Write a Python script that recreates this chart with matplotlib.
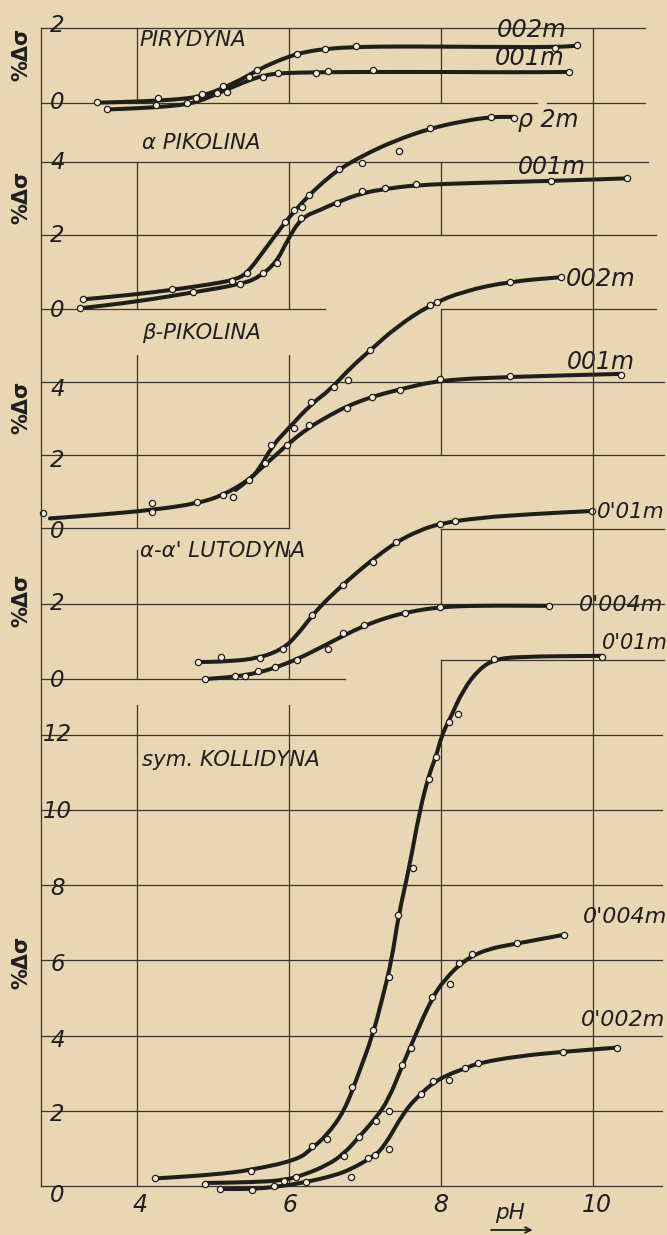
import matplotlib.pyplot as plt
import numpy as np
from matplotlib.path import Path
from matplotlib.patches import PathPatch

W, H = 667, 1235
PAPER = '#e8d7b4'
INK = '#211d19'
GRID = '#3a342d'

# pH -> pixel: pH 4 sits at X4, XS pixels per pH unit
X4, XS = 136.7, 76.1
X_LEFT = 4 - X4 / XS
X_RIGHT = 4 + (W - X4) / XS
AX_L = 2.742      # left vertical rule

# panel zero line (pixel row) and pixels per unit of %dsigma
pan = {
    'pir':  (102.7, 37.5),
    'apik': (309.0, 36.8),
    'bpik': (528.3, 36.5),
    'lut':  (679.0, 37.5),
    'kol':  (1186.0, 37.6),
}

# ---- PIRYDYNA ----
pir2_ph = [3.48, 4.28, 4.78, 4.86, 5.14, 5.47, 5.58, 6.10, 6.47, 6.88, 9.50, 9.79]
pir2_v = [0.01, 0.12, 0.13, 0.22, 0.45, 0.69, 0.87, 1.29, 1.43, 1.51, 1.47, 1.54]
pir2_cph = [3.48, 4.0, 4.5, 4.8, 5.0, 5.2, 5.4, 5.6, 5.8, 6.0, 6.2, 6.5, 6.9, 7.5, 8.5, 9.5, 9.79]
pir2_cv = [0.0, 0.03, 0.08, 0.15, 0.28, 0.45, 0.65, 0.88, 1.07, 1.23, 1.35, 1.44, 1.49, 1.5, 1.49, 1.48, 1.52]
pir1_ph = [3.61, 4.26, 4.66, 5.05, 5.19, 5.66, 5.86, 6.36, 6.52, 7.10, 9.68]
pir1_v = [-0.18, -0.06, -0.02, 0.25, 0.29, 0.69, 0.78, 0.80, 0.85, 0.87, 0.83]
pir1_cph = [3.61, 4.0, 4.4, 4.7, 4.9, 5.1, 5.3, 5.5, 5.7, 5.9, 6.3, 7.0, 8.0, 9.0, 9.68]
pir1_cv = [-0.18, -0.15, -0.1, -0.03, 0.1, 0.28, 0.45, 0.62, 0.74, 0.79, 0.81, 0.82, 0.82, 0.81, 0.82]

# ---- alfa PIKOLINA ----
ap2_ph = [3.29, 4.47, 5.25, 5.45, 5.95, 6.07, 6.17, 6.26, 6.66, 6.96, 7.45, 7.86, 8.66, 8.96]
ap2_v = [0.26, 0.54, 0.77, 0.97, 2.36, 2.69, 2.78, 3.10, 3.80, 3.98, 4.30, 4.91, 5.23, 5.20]
ap2_cph = [3.29, 4.0, 4.5, 5.0, 5.3, 5.45, 5.66, 5.95, 6.1, 6.26, 6.45, 6.66, 7.0, 7.4, 7.86, 8.3, 8.66, 8.96]
ap2_cv = [0.26, 0.4, 0.53, 0.68, 0.8, 0.97, 1.55, 2.36, 2.72, 3.08, 3.45, 3.8, 4.2, 4.58, 4.91, 5.11, 5.22, 5.22]
ap1_ph = [3.26, 4.74, 5.36, 5.66, 5.84, 6.16, 6.63, 6.96, 7.26, 7.67, 9.45, 10.44]
ap1_v = [0.02, 0.45, 0.67, 0.99, 1.26, 2.48, 2.89, 3.21, 3.28, 3.39, 3.47, 3.55]
ap1_cph = [3.26, 4.0, 4.74, 5.36, 5.6, 5.84, 5.97, 6.16, 6.41, 6.63, 6.96, 7.26, 7.67, 8.5, 9.45, 10.44]
ap1_cv = [0.02, 0.2, 0.45, 0.67, 0.85, 1.28, 1.83, 2.48, 2.69, 2.9, 3.15, 3.26, 3.37, 3.43, 3.48, 3.55]

# ---- beta PIKOLINA ----
bp2_ph = [2.77, 4.20, 4.79, 5.14, 5.47, 5.77, 6.29, 6.59, 6.78, 7.06, 7.85, 7.94, 8.90, 9.58]
bp2_v = [0.43, 0.70, 0.73, 0.91, 1.32, 2.28, 3.47, 3.86, 4.06, 4.88, 6.12, 6.21, 6.76, 6.88]
bp2_cph = [2.86, 3.5, 4.2, 4.8, 5.14, 5.47, 5.6, 5.78, 6.0, 6.29, 6.54, 6.80, 7.07, 7.41, 7.85, 8.3, 8.9, 9.58]
bp2_cv = [0.27, 0.37, 0.5, 0.68, 0.91, 1.32, 1.58, 2.26, 2.75, 3.4, 3.79, 4.38, 4.88, 5.51, 6.12, 6.5, 6.76, 6.88]
bp1_ph = [4.20, 5.27, 5.69, 5.97, 6.07, 6.26, 6.77, 7.09, 7.46, 7.98, 8.91, 10.36]
bp1_v = [0.45, 0.87, 1.78, 2.28, 2.74, 2.83, 3.29, 3.61, 3.79, 4.08, 4.17, 4.20]
bp1_cph = [5.3, 5.47, 5.6, 5.8, 5.97, 6.26, 6.54, 6.76, 7.07, 7.46, 7.98, 8.91, 10.36]
bp1_cv = [1.05, 1.32, 1.58, 1.95, 2.28, 2.76, 3.1, 3.34, 3.59, 3.81, 4.06, 4.15, 4.23]

# ---- alfa-alfa' LUTODYNA ----
lu1_ph = [4.81, 5.11, 5.62, 5.92, 6.30, 6.71, 7.11, 7.41, 7.99, 8.18, 9.98]
lu1_v = [0.45, 0.59, 0.57, 0.80, 1.71, 2.51, 3.13, 3.65, 4.13, 4.22, 4.48]
lu1_cph = [4.81, 5.2, 5.6, 5.92, 6.1, 6.3, 6.5, 6.71, 6.9, 7.11, 7.41, 7.7, 7.99, 8.5, 9.2, 9.98]
lu1_cv = [0.45, 0.47, 0.55, 0.8, 1.15, 1.68, 2.12, 2.51, 2.85, 3.2, 3.65, 3.95, 4.15, 4.3, 4.4, 4.48]
lu4_ph = [4.90, 5.29, 5.42, 5.60, 5.82, 6.10, 6.52, 6.71, 6.99, 7.52, 7.99, 9.42]
lu4_v = [0.0, 0.09, 0.09, 0.22, 0.31, 0.52, 0.80, 1.24, 1.44, 1.77, 1.93, 1.95]
lu4_cph = [4.90, 5.3, 5.6, 5.82, 6.1, 6.4, 6.71, 6.99, 7.3, 7.6, 7.99, 8.5, 9.42]
lu4_cv = [0.0, 0.06, 0.17, 0.3, 0.52, 0.82, 1.15, 1.42, 1.65, 1.8, 1.92, 1.96, 1.95]

# ---- sym. KOLLIDYNA ----
ko1_ph = [4.24, 5.50, 6.30, 6.50, 6.83, 7.11, 7.32, 7.44, 7.63, 7.84, 7.93, 8.11, 8.22, 8.70, 10.11]
ko1_v = [0.20, 0.41, 1.06, 1.25, 2.63, 4.15, 5.55, 7.21, 8.45, 10.82, 11.40, 12.33, 12.55, 14.01, 14.08]
ko1_cph = [4.24, 5.0, 5.5, 6.12, 6.3, 6.5, 6.73, 6.9, 7.1, 7.23, 7.35, 7.44, 7.58, 7.72, 7.85,
           7.93, 8.01, 8.11, 8.29, 8.5, 8.70, 9.0, 10.11]
ko1_cv = [0.2, 0.3, 0.42, 0.7, 1.0, 1.35, 2.0, 2.9, 4.0, 5.0, 6.0, 7.2, 8.45, 10.0, 11.0,
          11.4, 12.0, 12.4, 13.2, 13.75, 14.0, 14.08, 14.1]
ko4_ph = [4.90, 5.94, 6.09, 6.72, 6.92, 7.14, 7.31, 7.49, 7.61, 7.88, 8.12, 8.23, 8.41, 9.00, 9.61]
ko4_v = [0.05, 0.14, 0.23, 0.81, 1.31, 1.74, 2.00, 3.22, 3.66, 5.02, 5.36, 5.92, 6.17, 6.45, 6.68]
ko4_cph = [4.90, 5.5, 5.94, 6.2, 6.5, 6.72, 6.92, 7.14, 7.31, 7.49, 7.66, 7.88, 8.05, 8.3, 8.6, 9.0, 9.61]
ko4_cv = [0.08, 0.1, 0.15, 0.3, 0.55, 0.85, 1.3, 1.8, 2.3, 3.2, 4.0, 5.0, 5.5, 6.0, 6.3, 6.45, 6.68]
ko2_ph = [5.10, 5.51, 5.81, 6.22, 6.82, 7.04, 7.13, 7.31, 7.73, 7.90, 8.10, 8.32, 8.49, 9.60, 10.31]
ko2_v = [-0.09, -0.10, 0.0, 0.11, 0.23, 0.75, 0.82, 0.98, 2.45, 2.79, 2.82, 3.13, 3.28, 3.57, 3.68]
ko2_cph = [5.10, 5.5, 5.81, 6.22, 6.6, 6.82, 7.08, 7.24, 7.52, 7.73, 7.9, 8.1, 8.32, 8.49, 9.0, 9.6, 10.31]
ko2_cv = [-0.08, -0.08, -0.03, 0.1, 0.28, 0.45, 0.75, 1.0, 2.0, 2.45, 2.75, 2.97, 3.13, 3.27, 3.45, 3.57, 3.68]


def val_at(panel, px):
    zero, sc = pan[panel]
    return (zero - px) / sc


def panel_axes(fig, panel):
    zero, sc = pan[panel]
    ax = fig.add_axes([0, 0, 1, 1])
    ax.set_xlim(X_LEFT, X_RIGHT)
    ax.set_ylim((zero - H) / sc, zero / sc)
    ax.axis('off')
    ax.patch.set_alpha(0)
    return ax


def grid(ax, hl, vl):
    for v, a, b in hl:
        ax.plot([a, b], [v, v], color=GRID, lw=0.9, zorder=1)
    for x, a, b in vl:
        ax.plot([x, x], [a, b], color=GRID, lw=0.9, zorder=1)


def curve(ax, cph, cv):
    # hand drawn look: quadratic bezier through the read vertices
    p = np.column_stack([cph, cv])
    verts = [p[0], (p[0] + p[1]) / 2]
    codes = [Path.MOVETO, Path.LINETO]
    for i in range(1, len(p) - 1):
        verts += [p[i], (p[i] + p[i + 1]) / 2]
        codes += [Path.CURVE3, Path.CURVE3]
    verts.append(p[-1])
    codes.append(Path.LINETO)
    ax.add_patch(PathPatch(Path(verts, codes), fill=False, ec=INK, lw=2.9,
                           capstyle='round', joinstyle='round', zorder=3))


def series(ax, cph, cv, ph, v):
    curve(ax, cph, cv)
    ax.plot(ph, v, 'o', ms=4.5, mfc='#f4ecd9', mec=INK, mew=0.9, zorder=4)


def txt(ax, x, y, s, size=15.5, **kw):
    ax.text(x, y, s, fontsize=size, style='italic', color=INK,
            ha=kw.pop('ha', 'left'), va=kw.pop('va', 'center'), zorder=5, **kw)


def ylab(ax, ticks):
    for t, y in ticks:
        txt(ax, 2.96, y, t, size=16.5, ha='center')


def sig(ax, y):
    ax.text(2.49, y, '%Δσ', fontsize=15, fontweight='bold', rotation=90,
            color=INK, ha='center', va='center', zorder=5)


fig = plt.figure(figsize=(W / 100, H / 100), dpi=100, facecolor=PAPER)

R1, R2, R3 = 10.68, 10.82, 10.93
NAME = 15.3

# PIRYDYNA
ax = panel_axes(fig, 'pir')
grid(ax, [(2, AX_L, R1), (0, AX_L, 9.26), (0, 9.39, R1)],
     [(4, 0, 2), (6, 0, 2), (8, 0, 2)])
series(ax, pir2_cph, pir2_cv, pir2_ph, pir2_v)
series(ax, pir1_cph, pir1_cv, pir1_ph, pir1_v)
txt(ax, 4.04, 1.67, 'PIRYDYNA', size=NAME)
txt(ax, 8.73, 1.94, '002m', size=17.5)
txt(ax, 8.71, 1.19, '001m', size=17.5)
ylab(ax, [('2', 2.07), ('0', 0.0)])
sig(ax, 1.3)

# alfa PIKOLINA
ax = panel_axes(fig, 'apik')
grid(ax, [(4, AX_L, 10.72), (2, AX_L, R2), (0, AX_L, 6.47)],
     [(4, 0, 4), (6, 0, 4), (8, 2, 4)])
series(ax, ap2_cph, ap2_cv, ap2_ph, ap2_v)
series(ax, ap1_cph, ap1_cv, ap1_ph, ap1_v)
txt(ax, 4.07, 4.51, 'α PIKOLINA', size=NAME)
txt(ax, 9.01, 5.14, 'ρ 2m', size=17)
txt(ax, 9.01, 3.86, '001m', size=17)
ylab(ax, [('4', 3.99), ('2', 2.01), ('0', -0.03)])
sig(ax, 3.04)

# beta PIKOLINA
ax = panel_axes(fig, 'bpik')
grid(ax, [(6, 8, R2), (4, AX_L, R3), (2, AX_L, R3), (0, AX_L, 6.0)],
     [(4, 0, 4.75), (6, 0, 4.75), (8, 2, 6)])
series(ax, bp2_cph, bp2_cv, bp2_ph, bp2_v)
series(ax, bp1_cph, bp1_cv, bp1_ph, bp1_v)
txt(ax, 4.07, 5.35, 'β-PIKOLINA', size=NAME)
txt(ax, 9.64, 6.83, '002m', size=17.5)
txt(ax, 9.65, 4.56, '001m', size=17)
ylab(ax, [('4', 3.79), ('2', 1.87), ('0', -0.1)])
sig(ax, 3.3)

# alfa-alfa' LUTODYNA
ax = panel_axes(fig, 'lut')
grid(ax, [(4, 8, R3), (2, AX_L, R3), (0, AX_L, 6.74)],
     [(4, 0, 3.45), (6, 0, 3.45), (8, 2, 4)])
series(ax, lu1_cph, lu1_cv, lu1_ph, lu1_v)
series(ax, lu4_cph, lu4_cv, lu4_ph, lu4_v)
txt(ax, 4.04, 3.41, "α-α' LUTODYNA", size=NAME)
txt(ax, 10.05, 4.45, "0'01m", size=15.5)
txt(ax, 9.81, 1.97, "0'004m", size=16)
ylab(ax, [('2', 2.0), ('0', -0.03)])
sig(ax, 2.1)

# sym. KOLLIDYNA
ax = panel_axes(fig, 'kol')
grid(ax, [(14, 8, R3)] + [(v, AX_L, 10.9) for v in range(0, 13, 2)],
     [(4, 0, 12.8), (6, 0, 12.8), (8, 0, 14)])
top = val_at('kol', pan['pir'][0] - 2 * pan['pir'][1])
grid(ax, [], [(AX_L, 0, top), (10, 0, top)])
series(ax, ko1_cph, ko1_cv, ko1_ph, ko1_v)
series(ax, ko4_cph, ko4_cv, ko4_ph, ko4_v)
series(ax, ko2_cph, ko2_cv, ko2_ph, ko2_v)
txt(ax, 4.07, 11.33, 'sym. KOLLIDYNA', size=NAME)
txt(ax, 10.11, 14.44, "0'01m", size=15)
txt(ax, 9.86, 7.15, "0'004m", size=16)
txt(ax, 9.84, 4.41, "0'002m", size=16)
ylab(ax, [('12', 12.0), ('10', 9.97), ('8', 7.9), ('6', 5.88),
          ('4', 3.88), ('2', 1.89), ('0', -0.24)])
sig(ax, 5.96)
for t, x in [('4', 4.04), ('6', 6.02), ('8', 7.99), ('10', 10.04)]:
    txt(ax, x, -0.5, t, size=17, ha='center')
txt(ax, 8.91, -0.72, 'pH', size=15.5, ha='center')
ax.annotate('', xy=(9.24, -1.17), xytext=(8.62, -1.17),
            arrowprops=dict(arrowstyle='->', color=INK, lw=1.3))

fig.savefig('out.png', dpi=100, facecolor=PAPER)
